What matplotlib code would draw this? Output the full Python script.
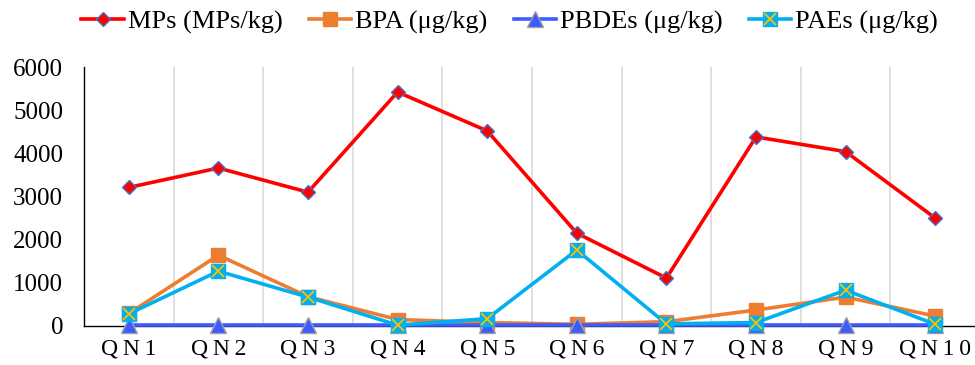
import matplotlib
matplotlib.use('Agg')
from matplotlib import pyplot as plt
from matplotlib.legend_handler import HandlerTuple

sites = ['QN1','QN2','QN3','QN4','QN5','QN6','QN7','QN8','QN9','QN10']
mps   = [3210, 3660, 3100, 5420, 4520, 2150, 1110, 4380, 4040, 2500]
bpa   = [290, 1640, 680, 150, 80, 40, 100, 370, 670, 230]
pbdes = [12, 12, 12, 12, 12, 12, 12, 12, 12, 12]
paes  = [280, 1270, 670, 20, 170, 1760, 50, 80, 830, 40]

plt.rcParams['font.family'] = ['Liberation Serif', 'DejaVu Serif']

fig = plt.figure(figsize=(9.75, 3.65), dpi=100)
ax = fig.add_axes([84/975, 39/365, 896/975, 259/365])
x = list(range(len(sites)))

l1, = ax.plot(x, mps, color='#ff0000', lw=2.6, marker='D', ms=7.5,
              mfc='#ff0000', mec='#4472c4', mew=1.0, zorder=5, clip_on=False)
l2, = ax.plot(x, bpa, color='#ed7d31', lw=2.6, marker='s', ms=10,
              mfc='#ed7d31', mec='#ed7d31', zorder=3, clip_on=False)
l3, = ax.plot(x, pbdes, color='#3c5cff', lw=2.6, marker='^', ms=11,
              mfc='#3c5cff', mec='#a0a0a0', mew=1.0, zorder=4, clip_on=False)
l4, = ax.plot(x, paes, color='#00b0f0', lw=2.6, marker='s', ms=10.5,
              mfc='#00b0f0', mec='#00b0f0', zorder=4, clip_on=False)
l4x, = ax.plot(x, paes, ls='none', marker='x', ms=9, mec='#ffc000', mew=1.3,
               zorder=4, clip_on=False)

ax.set_xlim(-0.5, 9.5)
ax.set_ylim(0, 6000)
ax.set_yticks([0, 1000, 2000, 3000, 4000, 5000, 6000])
ax.set_xticks(x)
ax.set_xticklabels(['\u2009'.join(s) for s in sites])
ax.set_xticks([i + 0.5 for i in range(9)], minor=True)
ax.grid(axis='x', which='minor', color='#d9d9d9', lw=1.2)
ax.tick_params(which='both', length=0)
ax.tick_params(axis='y', labelsize=18, pad=15)
ax.tick_params(axis='x', labelsize=17, pad=9)
for s in ['top', 'right']:
    ax.spines[s].set_visible(False)
ax.spines['left'].set_linewidth(1.0)
ax.spines['bottom'].set_linewidth(1.0)

ax.legend([l1, l2, l3, (l4, l4x)],
          ['MPs (MPs/kg)', 'BPA (μg/kg)', 'PBDEs (μg/kg)', 'PAEs (μg/kg)'],
          handler_map={tuple: HandlerTuple(ndivide=1)},
          loc='center', bbox_to_anchor=(0.475, 1.174), ncol=4, frameon=False,
          fontsize=19, handlelength=1.6, columnspacing=1.0, handletextpad=0.15,
          borderpad=0, borderaxespad=0)

fig.savefig('out.png', dpi=100)
